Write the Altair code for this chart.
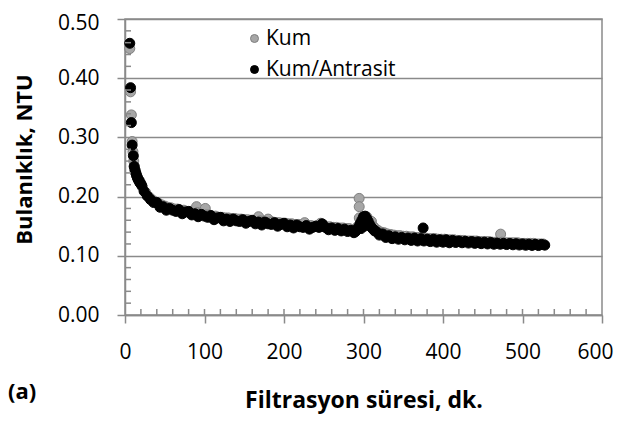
import altair as alt
import pandas as pd

SERIES = ["Kum", "Kum/Antrasit"]

# Kum (grey)
KUM_X = [6, 7, 8, 9, 10, 11, 12, 13, 14, 15, 16, 17, 18, 19, 20,
         22, 26, 30, 34, 38, 42, 46, 50, 54, 58, 62, 66, 70, 74, 78, 82, 86, 90, 91, 94, 98,
         101, 102, 106, 110, 114, 118, 122, 126, 130, 134, 138, 142, 146, 150, 154, 158, 162,
         166, 168, 170, 174, 178, 180, 182, 186, 190, 194, 198, 202, 206, 210, 214, 218, 222,
         226, 230, 234, 238, 242, 246, 250, 254, 258, 262, 266, 270, 274, 278, 282, 286, 290,
         293, 294.5, 294.6, 294.7, 296, 298, 300, 302, 304, 306, 308, 310, 312, 314, 318, 322,
         326, 330, 334, 338, 342, 346, 350, 354, 358, 362, 366, 370, 374, 378, 382, 386, 390,
         394, 398, 402, 406, 410, 414, 418, 422, 426, 430, 434, 438, 442, 446, 450, 454, 458,
         462, 466, 470, 472.5, 474, 478, 482, 486, 490, 494, 498, 502, 506, 510, 514, 518, 522, 526]
KUM_Y = [0.450, 0.377, 0.338, 0.293, 0.276, 0.260, 0.250, 0.244, 0.239, 0.235, 0.232, 0.229, 0.227, 0.225, 0.222,
         0.216, 0.207, 0.200, 0.195, 0.191, 0.189, 0.186, 0.184, 0.182, 0.181, 0.179, 0.179, 0.177, 0.177, 0.175, 0.175, 0.173, 0.183, 0.173, 0.171, 0.171,
         0.180, 0.169, 0.169, 0.167, 0.167, 0.165, 0.165, 0.164, 0.164, 0.163, 0.163, 0.162, 0.162, 0.161, 0.161, 0.160, 0.160,
         0.159, 0.166, 0.159, 0.158, 0.158, 0.162, 0.157, 0.157, 0.156, 0.156, 0.155, 0.155, 0.154, 0.154, 0.153, 0.153, 0.152,
         0.156, 0.151, 0.151, 0.150, 0.151, 0.155, 0.152, 0.149, 0.149, 0.148, 0.148, 0.147, 0.147, 0.146, 0.146, 0.144, 0.144,
         0.150, 0.197, 0.183, 0.164, 0.156, 0.162, 0.165, 0.166, 0.166, 0.162, 0.158, 0.158, 0.150, 0.147, 0.143, 0.140,
         0.139, 0.137, 0.136, 0.135, 0.134, 0.134, 0.133, 0.133, 0.132, 0.132, 0.131, 0.131, 0.130, 0.130, 0.129, 0.129, 0.129,
         0.128, 0.128, 0.128, 0.127, 0.127, 0.127, 0.126, 0.126, 0.126, 0.125, 0.125, 0.125, 0.125, 0.124, 0.124, 0.124, 0.124,
         0.123, 0.123, 0.123, 0.1366, 0.123, 0.122, 0.122, 0.122, 0.122, 0.122, 0.121, 0.121, 0.121, 0.121, 0.121, 0.120, 0.120, 0.120]

# Kum/Antrasit (black)
KA_X = [6, 7, 8, 9, 10.5, 11.5, 12.5, 13.5, 14.5, 15.5, 16.5, 17.5, 18.5, 19.5, 21,
        24, 28, 32, 36, 40, 44, 48, 52, 56, 60, 64, 68, 72, 76, 80, 84, 88, 92, 96, 100,
        104, 108, 112, 116, 120, 124, 128, 132, 136, 140, 144, 148, 152, 156, 160, 164, 168,
        172, 176, 180, 184, 188, 192, 196, 200, 204, 208, 212, 216, 220, 224, 228, 232, 236,
        240, 244, 248, 252, 256, 260, 264, 268, 272, 276, 280, 284, 288, 290, 292, 294, 296,
        297, 298, 300, 301, 302, 304, 306, 308, 310, 312, 314, 316, 320, 324, 328, 332, 336,
        340, 344, 348, 352, 356, 360, 364, 368, 372, 375, 376, 380, 384, 388, 392, 396, 400,
        404, 408, 412, 416, 420, 424, 428, 432, 436, 440, 444, 448, 452, 456, 460, 464, 468,
        472, 476, 480, 484, 488, 492, 496, 500, 504, 508, 512, 516, 520, 524, 528]
KA_Y = [0.459, 0.384, 0.325, 0.287, 0.269, 0.251, 0.245, 0.240, 0.236, 0.232, 0.229, 0.227, 0.224, 0.222, 0.219,
        0.209, 0.201, 0.195, 0.190, 0.190, 0.182, 0.183, 0.177, 0.180, 0.177, 0.175, 0.178, 0.171, 0.174, 0.175, 0.169, 0.171, 0.166, 0.170, 0.167,
        0.165, 0.168, 0.161, 0.164, 0.165, 0.159, 0.162, 0.158, 0.162, 0.159, 0.158, 0.161, 0.155, 0.158, 0.160, 0.154, 0.157,
        0.152, 0.157, 0.154, 0.153, 0.156, 0.150, 0.153, 0.155, 0.149, 0.152, 0.147, 0.152, 0.149, 0.148, 0.151, 0.145, 0.148,
        0.150, 0.148, 0.154, 0.148, 0.144, 0.147, 0.143, 0.146, 0.142, 0.145, 0.141, 0.143, 0.139, 0.141, 0.145, 0.149, 0.155,
        0.146, 0.160, 0.166, 0.150, 0.167, 0.163, 0.158, 0.152, 0.148, 0.145, 0.142, 0.141, 0.135, 0.137, 0.131, 0.134, 0.129,
        0.132, 0.128, 0.131, 0.127, 0.130, 0.126, 0.130, 0.125, 0.129, 0.147, 0.125, 0.128, 0.124, 0.128, 0.123, 0.127, 0.123,
        0.127, 0.122, 0.126, 0.1225, 0.125, 0.122, 0.1245, 0.1215, 0.124, 0.121, 0.1235, 0.1205, 0.123, 0.120, 0.1225, 0.1195, 0.1215,
        0.1195, 0.121, 0.119, 0.1208, 0.1186, 0.1204, 0.1182, 0.120, 0.1178, 0.1196, 0.1175, 0.1194, 0.1173, 0.1192, 0.118]

X_TICKS = [0, 100, 200, 300, 400, 500, 600]
Y_TICKS = [0.0, 0.1, 0.2, 0.3, 0.4, 0.5]
X_INNER_TICKS = [20, 40, 60, 80, 100, 120, 140, 160, 180, 200, 220, 240, 260, 280, 300,
                 320, 340, 360, 380, 400, 420, 440, 460, 480, 500, 520, 540, 560, 580]
Y_INNER_TICKS = [0.02, 0.04, 0.06, 0.08, 0.12, 0.14, 0.16, 0.18, 0.22, 0.24, 0.26, 0.28,
                 0.32, 0.34, 0.36, 0.38, 0.42, 0.44, 0.46, 0.48]
PANEL_LABEL = ["(a)"]

FILL = ["#a6a6a6", "#000000"]
EDGE = ["#7f7f7f", "#000000"]
GRAY = "#8a8a8a"
FONT = "Open Sans"

df = pd.concat([
    pd.DataFrame({"t": KUM_X, "b": KUM_Y, "s": SERIES[0]}),
    pd.DataFrame({"t": KA_X, "b": KA_Y, "s": SERIES[1]}),
], ignore_index=True)

xscale = alt.Scale(domain=[0, 600], nice=False, zero=False)
yscale = alt.Scale(domain=[0, 0.5], nice=False)

xaxis = alt.Axis(values=X_TICKS, title="Filtrasyon süresi, dk.", grid=False,
                 labelPadding=18, labelFlush=False, labelOverlap=False,
                 labelAlign={"expr": "datum.value >= 600 ? 'right' : 'center'"},
                 labelOffset={"expr": "datum.value >= 600 ? 11 : 0"},
                 titleFontSize=23,
                 titleX=238.5, titleY=85, titleBaseline="middle", titleAlign="center")
yaxis = alt.Axis(values=Y_TICKS, format=".2f", title="Bulanıklık, NTU", grid=True,
                 labelPadding=18, labelFlush=False, labelOverlap=False,
                 labelOffset={"expr": "datum.value >= 0.5 ? 4 : 0"},
                 titleFontSize=22,
                 titleX=-101, titleY=140, titleAngle=270, titleBaseline="middle",
                 titleAlign="center")

leg = alt.Legend(orient="none", legendX=119, legendY=9, title=None,
                 labelFont=FONT, labelFontSize=21, labelColor="#000000",
                 symbolSize=64, symbolStrokeWidth=1, symbolType="circle",
                 labelOffset=1, rowPadding=9, padding=0)

points = alt.Chart(df).mark_circle(size=100, strokeWidth=1, opacity=1).encode(
    x=alt.X("t:Q", scale=xscale, axis=xaxis),
    y=alt.Y("b:Q", scale=yscale, axis=yaxis),
    fill=alt.Fill("s:N", scale=alt.Scale(domain=SERIES, range=FILL), legend=leg),
    stroke=alt.Stroke("s:N", scale=alt.Scale(domain=SERIES, range=EDGE), legend=leg),
)

x_inner = alt.Chart(pd.DataFrame({"t": X_INNER_TICKS})).mark_rule(color=GRAY, strokeWidth=1.5).encode(
    x=alt.X("t:Q", scale=xscale, axis=xaxis),
    y=alt.value(290), y2=alt.value(296),
)
y_inner = alt.Chart(pd.DataFrame({"b": Y_INNER_TICKS})).mark_rule(color=GRAY, strokeWidth=1.5).encode(
    y=alt.Y("b:Q", scale=yscale, axis=yaxis),
    x=alt.value(0), x2=alt.value(6),
)
panel = alt.Chart(pd.DataFrame({"lab": PANEL_LABEL})).mark_text(
    align="left", baseline="middle", font=FONT, fontSize=22, fontWeight="bold", color="#000000"
).encode(x=alt.value(-117), y=alt.value(373), text="lab:N")

chart = alt.layer(points, x_inner, y_inner, panel).properties(
    width=477, height=296,
    autosize=alt.AutoSizeParams(type="none"),
    padding={"left": 117, "top": 11, "right": 12, "bottom": 100},
).configure_view(
    stroke=GRAY, strokeWidth=1.5
).configure_axis(
    domainColor=GRAY, domainWidth=1.5, tickColor=GRAY, tickWidth=1.5, tickSize=8,
    gridColor=GRAY, gridWidth=1.5,
    labelFont=FONT, labelFontSize=21, labelColor="#000000",
    titleFont=FONT, titleFontWeight="bold", titleColor="#000000",
)

chart.save("out.html", embed_options={"renderer": "svg", "actions": False})
